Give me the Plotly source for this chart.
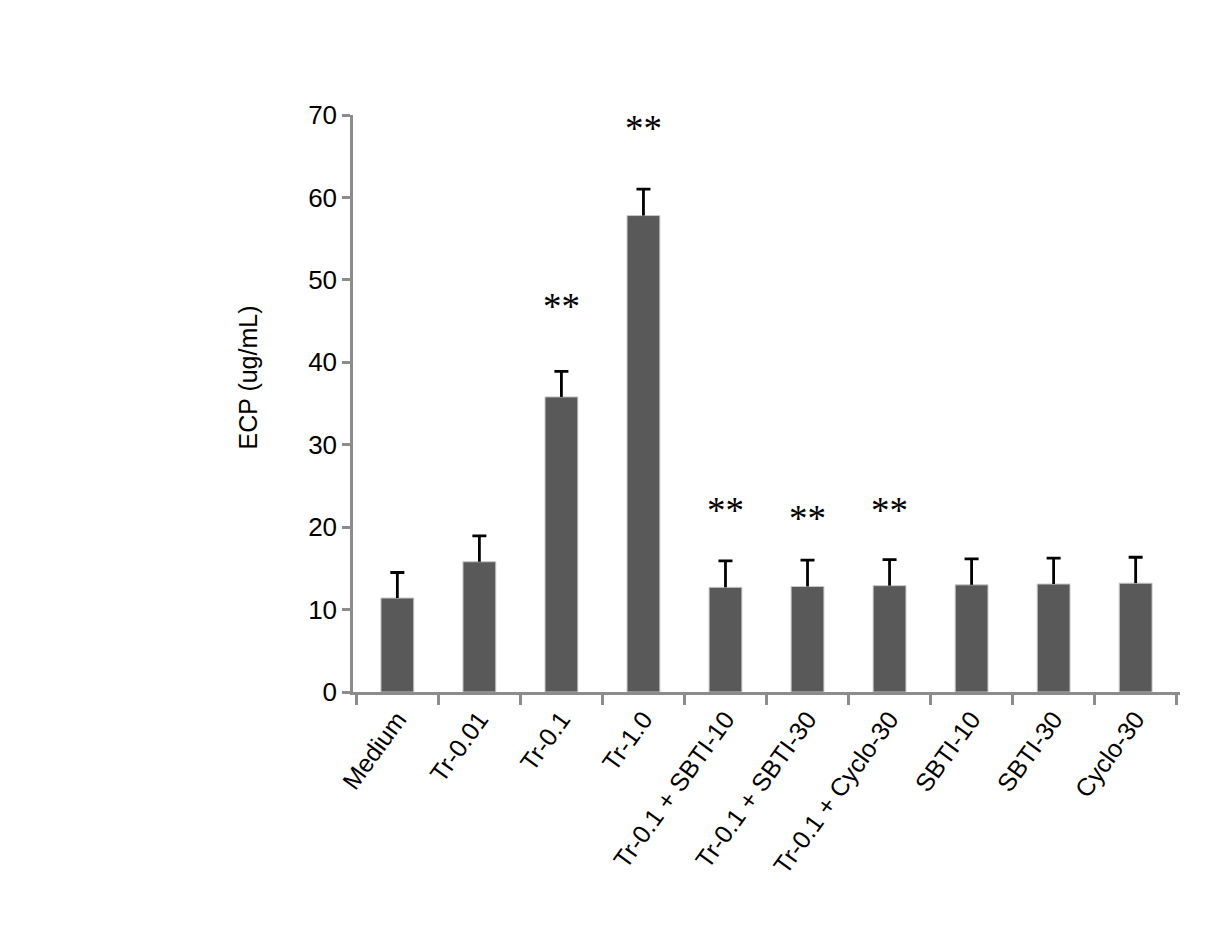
import plotly.graph_objects as go

categories = ["Medium", "Tr-0.01", "Tr-0.1", "Tr-1.0", "Tr-0.1 + SBTI-10",
              "Tr-0.1 + SBTI-30", "Tr-0.1 + Cyclo-30", "SBTI-10", "SBTI-30", "Cyclo-30"]
ecp_means = [11.4, 15.8, 35.8, 57.8, 12.7, 12.8, 12.9, 13.0, 13.1, 13.2]
ecp_errors = [3.1, 3.15, 3.1, 3.2, 3.2, 3.2, 3.15, 3.15, 3.15, 3.15]
star_labels = ["", "", "**", "**", "**", "**", "**", "", "", ""]
star_y = [None, None, 46.8, 68.4, 22.0, 21.1, 22.0, None, None, None]

label_font = "Liberation Sans Narrow, Arial Narrow, Liberation Sans, Arial"

tops = [m + e for m, e in zip(ecp_means, ecp_errors)]
stem_x, stem_y = [], []
for c, m, t in zip(categories, ecp_means, tops):
    stem_x += [c, c, None]
    stem_y += [m, t, None]

fig = go.Figure()
fig.add_trace(go.Bar(
    x=categories, y=ecp_means,
    width=0.4,
    marker=dict(color="#595959", line=dict(color="#c8c8c8", width=1)),
    showlegend=False, hoverinfo="skip",
))
# error bar stems (upper only)
fig.add_trace(go.Scatter(
    x=stem_x, y=stem_y, mode="lines",
    line=dict(color="black", width=2.8),
    showlegend=False, hoverinfo="skip", connectgaps=False,
))
# error bar caps
fig.add_trace(go.Scatter(
    x=categories, y=tops, mode="markers",
    marker=dict(size=1, color="rgba(0,0,0,0)"),
    error_y=dict(type="data", array=[0] * len(tops), color="black", thickness=2.8, width=7),
    showlegend=False, hoverinfo="skip",
))

for c, s, yy in zip(categories, star_labels, star_y):
    if s:
        fig.add_annotation(x=c, y=yy, text=s, showarrow=False,
                           font=dict(family="Liberation Serif, Times New Roman", size=37, color="black"),
                           yanchor="middle")

# y-axis title (placed slightly above the axis centre, as in the original)
fig.add_annotation(xref="paper", yref="paper", x=-0.127, y=0.545,
                   text="ECP (ug/mL)", textangle=-90, showarrow=False,
                   xanchor="center", yanchor="middle",
                   font=dict(family=label_font, size=25, color="black"))

fig.update_layout(
    width=1210, height=921,
    margin=dict(l=345, r=38, t=107, b=237),
    plot_bgcolor="white", paper_bgcolor="white",
)
fig.update_xaxes(
    type="category", tickson="boundaries",
    showline=True, linecolor="#8c8c8c", linewidth=2.5,
    ticks="outside", ticklen=10, tickwidth=2.5, tickcolor="#8c8c8c",
    tickangle=-54,
    tickfont=dict(family=label_font, size=25, color="black"),
    showgrid=False, zeroline=False,
)
fig.update_yaxes(
    range=[0, 70], tickvals=[0, 10, 20, 30, 40, 50, 60, 70],
    showline=True, linecolor="#8c8c8c", linewidth=2.5,
    ticks="outside", ticklen=8, tickwidth=2.5, tickcolor="#8c8c8c",
    tickfont=dict(family=label_font, size=26, color="black"),
    showgrid=False, zeroline=False,
)

fig.write_html("out.html")
